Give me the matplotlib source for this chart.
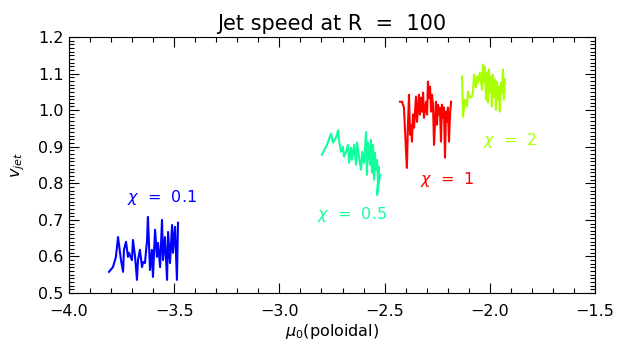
import numpy as np
import matplotlib
matplotlib.use('Agg')
from matplotlib import pyplot as plt
import matplotlib.ticker as ticker

# chi = 0.1
mu_01 = [-3.810, -3.791, -3.777, -3.767, -3.753, -3.743, -3.739, -3.729, -3.720, -3.715,
         -3.701, -3.696, -3.686, -3.677, -3.672, -3.663, -3.653, -3.648, -3.639, -3.629,
         -3.625, -3.615, -3.606, -3.601, -3.591, -3.582, -3.577, -3.567, -3.558, -3.553,
         -3.544, -3.534, -3.529, -3.520, -3.510, -3.506, -3.496, -3.487, -3.482]
v_01 = [0.558, 0.571, 0.599, 0.653, 0.590, 0.558, 0.618, 0.640, 0.599, 0.610,
        0.590, 0.645, 0.599, 0.536, 0.590, 0.618, 0.571, 0.585, 0.582, 0.645,
        0.708, 0.563, 0.618, 0.544, 0.673, 0.599, 0.637, 0.571, 0.700, 0.590,
        0.653, 0.536, 0.667, 0.582, 0.686, 0.610, 0.681, 0.536, 0.692]

# chi = 0.5
mu_05 = [-2.798, -2.774, -2.755, -2.745, -2.731, -2.721, -2.717, -2.707, -2.698, -2.693,
         -2.683, -2.674, -2.669, -2.660, -2.655, -2.645, -2.636, -2.631, -2.622, -2.612,
         -2.607, -2.598, -2.588, -2.584, -2.579, -2.569, -2.565, -2.560, -2.555, -2.550,
         -2.546, -2.541, -2.536, -2.531, -2.527, -2.536, -2.522]
v_05 = [0.878, 0.905, 0.936, 0.911, 0.925, 0.945, 0.919, 0.886, 0.900, 0.873,
        0.886, 0.905, 0.856, 0.897, 0.864, 0.905, 0.851, 0.911, 0.873, 0.837,
        0.886, 0.856, 0.940, 0.823, 0.911, 0.851, 0.919, 0.829, 0.905, 0.810,
        0.884, 0.837, 0.864, 0.801, 0.845, 0.768, 0.823]

# chi = 1
mu_1 = [-2.427, -2.417, -2.408, -2.398, -2.394, -2.389, -2.384, -2.379, -2.375, -2.370,
        -2.365, -2.360, -2.351, -2.346, -2.341, -2.337, -2.332, -2.327, -2.322, -2.317,
        -2.313, -2.303, -2.298, -2.294, -2.289, -2.284, -2.279, -2.275, -2.270, -2.265,
        -2.256, -2.251, -2.246, -2.241, -2.237, -2.232, -2.227, -2.222, -2.218, -2.213,
        -2.208, -2.203, -2.199, -2.194, -2.189, -2.184]
v_1 = [1.023, 1.023, 1.007, 0.886, 0.842, 0.960, 1.042, 0.933, 0.960, 0.914,
       0.988, 0.952, 1.037, 0.968, 1.007, 1.042, 0.988, 1.034, 0.996, 1.048,
       0.979, 1.023, 0.988, 1.078, 1.034, 1.064, 0.996, 1.042, 1.015, 0.905,
       1.023, 0.960, 1.015, 0.988, 1.007, 0.914, 1.015, 0.979, 1.007, 0.870,
       0.996, 0.968, 1.007, 0.914, 0.988, 1.023]

# chi = 2
mu_2 = [-2.132, -2.127, -2.118, -2.108, -2.104, -2.094, -2.085, -2.080, -2.075, -2.066,
        -2.061, -2.056, -2.047, -2.037, -2.032, -2.028, -2.023, -2.018, -2.013, -2.009,
        -2.004, -1.999, -1.994, -1.990, -1.985, -1.980, -1.975, -1.971, -1.966, -1.961,
        -1.956, -1.952, -1.947, -1.942, -1.937, -1.933, -1.928]
v_2 = [1.092, 0.982, 1.029, 1.010, 1.051, 1.034, 1.037, 1.048, 1.097, 1.062,
       1.092, 1.075, 1.103, 1.056, 1.125, 1.078, 1.119, 1.029, 1.103, 1.021,
       1.111, 1.048, 1.092, 1.010, 1.097, 1.037, 1.084, 1.001, 1.078, 1.029,
       1.064, 0.996, 1.075, 1.048, 1.111, 1.029, 1.084]

series = [(mu_01, v_01, '#0000ff', r'$\chi$  =  0.1', (-3.56, 0.760)),
          (mu_05, v_05, '#10ff9c', r'$\chi$  =  0.5', (-2.655, 0.714)),
          (mu_1, v_1, '#ff0000', r'$\chi$  =  1', (-2.203, 0.810)),
          (mu_2, v_2, '#aaff00', r'$\chi$  =  2', (-1.904, 0.916))]

plt.rcParams['mathtext.fontset'] = 'dejavusans'
fig = plt.figure(figsize=(6.24, 3.51), dpi=100)
ax = fig.add_axes([0.1106, 0.1652, 0.8429, 0.7294])

for mu, v, col, lab, pos in series:
    ax.plot(mu, v, color=col, lw=1.5)
    ax.text(pos[0], pos[1], lab, color=col, fontsize=11.5, ha='center', va='center')

ax.set_xlim(-4.0, -1.5)
ax.set_ylim(0.5, 1.2)
ax.xaxis.set_major_locator(ticker.MultipleLocator(0.5))
ax.xaxis.set_minor_locator(ticker.MultipleLocator(0.1))
ax.yaxis.set_major_locator(ticker.MultipleLocator(0.1))
ax.yaxis.set_minor_locator(ticker.MultipleLocator(0.01))
fmt = ticker.FuncFormatter(lambda v, p: ('%.1f' % v).replace('-', '\u2212'))
ax.xaxis.set_major_formatter(fmt)
ax.yaxis.set_major_formatter(fmt)
ax.tick_params(which='both', direction='in', top=True, right=True, labelsize=11.5)
ax.tick_params(axis='x', pad=8)
ax.tick_params(axis='y', pad=4)
ax.tick_params(which='major', length=7, width=0.8)
ax.tick_params(which='minor', length=3.5, width=0.8)
for s in ax.spines.values():
    s.set_linewidth(0.8)

ax.set_title('Jet speed at R  =  100', fontsize=15, pad=5)
ax.set_xlabel(r'$\mu_0$(poloidal)', fontsize=11.5, labelpad=2)
ax.set_ylabel(r'$v_{jet}$', fontsize=11.5, labelpad=8)

fig.savefig('out.png', dpi=100)
